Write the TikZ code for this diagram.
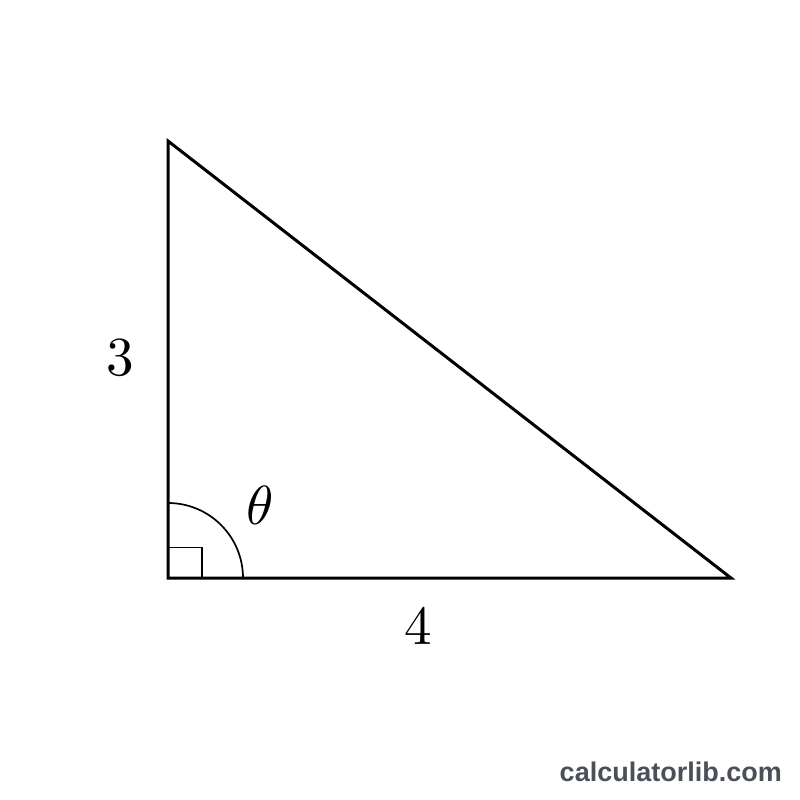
\documentclass[tikz,border=0pt]{standalone}
\usepackage{fontspec}
\newfontfamily\wmfont{Liberation Sans}
\usepackage{tikz}
\definecolor{wmgray}{RGB}{74,79,90}

\begin{document}
\begin{tikzpicture}[x=1pt, y=-1pt,
	side/.style={line width=3pt, line join=miter},
	anglemark/.style={line width=1.7pt},
	lab/.style={scale=5.5}]
				\useasboundingbox (0, 0) rectangle (800, 800);
				\coordinate (C) at (168, 578);
				\coordinate (A) at (168, 141);
				\coordinate (B) at (731, 578);
				\draw[anglemark] (168, 503) arc[start angle=-90, end angle=0, radius=75];
				\draw[anglemark] (168, 547.5) -- (202, 547.5) -- (202, 578);
				\draw[side] (A) -- (C) -- (B) -- cycle;
				\node[lab] (a) at (120, 358) {$3$};
				\node[lab] (b) at (418, 627) {$4$};
				\node[lab] (t) at (260, 505) {$\theta$};
				\node[font=\wmfont\bfseries\fontsize{27}{32}\selectfont, text=wmgray, anchor=east, inner sep=0pt] (wm) at (782, 772) {calculatorlib.com};
			\end{tikzpicture}
\end{document}
